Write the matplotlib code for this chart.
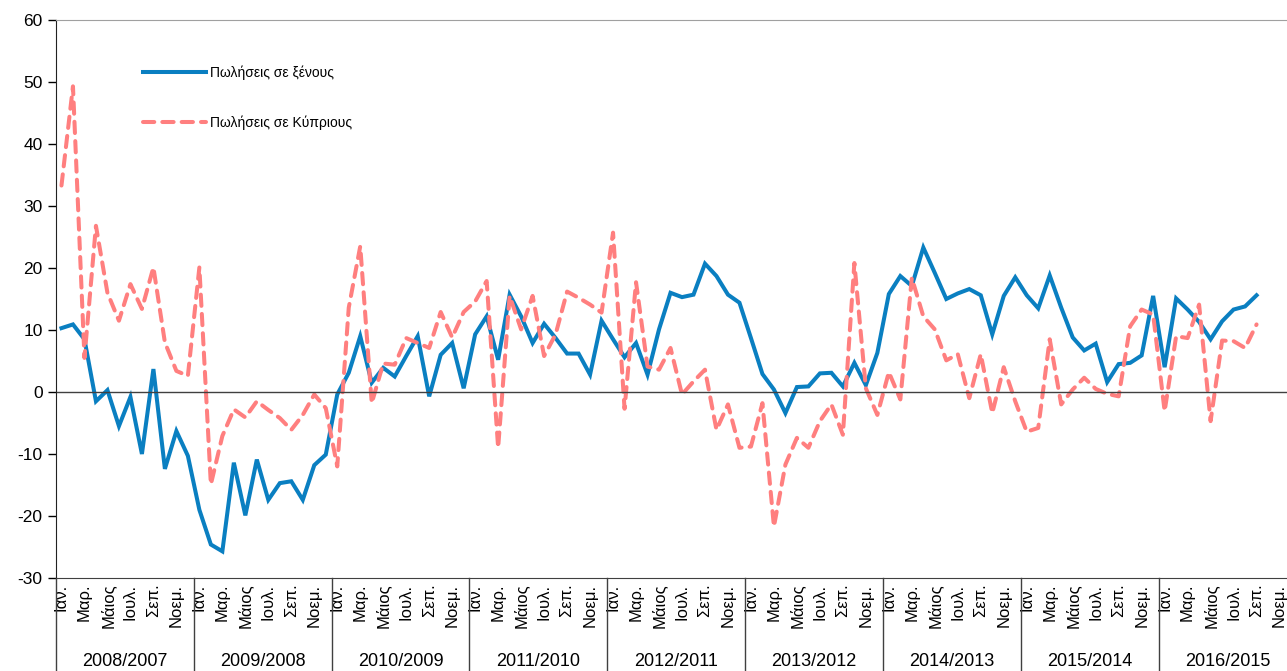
import matplotlib
matplotlib.use("Agg")
import matplotlib.pyplot as plt
import matplotlib.transforms as mtransforms
import numpy as np

plt.rcParams['font.family'] = ['Liberation Sans', 'DejaVu Sans']
plt.rcParams['axes.unicode_minus'] = False

# monthly % change, Jan 2008 .. Sep 2016
foreign = [10.3, 10.9, 8.5, -1.5, 0.3, -5.5, -0.8, -10.0, 3.7, -12.4, -6.3, -10.3,
           -19.0, -24.6, -25.7, -11.4, -19.9, -10.9, -17.4, -14.7, -14.4, -17.4, -11.8, -10.1,
           -0.4, 3.1, 9.0, 1.5, 3.9, 2.5, 5.8, 9.0, -0.7, 6.0, 7.9, 0.6,
           9.3, 12.2, 5.2, 15.7, 12.2, 7.9, 11.0, 8.7, 6.2, 6.2, 2.8, 11.5,
           8.5, 5.6, 7.9, 2.8, 10.1, 16.0, 15.3, 15.7, 20.7, 18.7, 15.7, 14.4,
           8.7, 2.9, 0.4, -3.4, 0.8, 0.9, 3.0, 3.1, 0.9, 4.7, 1.1, 6.3,
           15.8, 18.7, 17.1, 23.3, 19.2, 15.0, 15.9, 16.6, 15.6, 9.3, 15.5, 18.5,
           15.6, 13.5, 18.8, 13.6, 8.8, 6.7, 7.8, 1.6, 4.5, 4.7, 5.9, 15.5,
           4.0, 15.1, 13.3, 11.3, 8.5, 11.4, 13.3, 13.8, 15.6]

cypriots = [33.3, 49.3, 5.5, 26.8, 16.0, 11.5, 17.4, 13.4, 20.1, 8.0, 3.4, 2.6,
            20.1, -14.9, -7.1, -2.8, -4.1, -1.5, -2.9, -4.2, -6.1, -3.7, -0.4, -2.6,
            -12.0, 13.6, 23.5, -1.8, 4.6, 4.4, 8.7, 7.9, 7.1, 12.9, 8.8, 12.9,
            14.6, 17.9, -9.0, 15.5, 10.1, 15.5, 5.8, 9.3, 16.2, 15.2, 14.1, 12.8,
            25.7, -2.7, 17.7, 4.1, 3.6, 7.1, -0.4, 1.7, 3.6, -6.1, -2.0, -9.0,
            -8.8, -1.8, -21.7, -11.7, -7.4, -9.0, -4.7, -2.0, -6.9, 20.8, 0.6, -3.7,
            3.2, -1.2, 18.4, 12.2, 10.1, 5.1, 6.1, -1.0, 6.1, -3.4, 4.0, -1.5,
            -6.4, -5.8, 8.5, -2.0, 0.4, 2.3, 0.5, -0.3, -0.7, 10.6, 13.3, 12.5,
            -3.1, 9.0, 8.7, 14.1, -4.7, 8.3, 8.2, 7.1, 10.9]

months = ['Ιαν.', 'Μαρ.', 'Μάιος', 'Ιουλ.', 'Σεπ.', 'Νοεμ.']
years = ['2008/2007', '2009/2008', '2010/2009', '2011/2010', '2012/2011',
         '2013/2012', '2014/2013', '2015/2014', '2016/2015']

fig = plt.figure(figsize=(12.87, 6.71), dpi=100)
# axis runs a little past the right edge of the figure
ax = fig.add_axes([0.0433, 0.1386, 0.9643, 0.8316])

x = np.arange(len(foreign))
ax.plot(x, foreign, color='#0A7FC1', lw=2.9, label='Πωλήσεις σε ξένους',
        solid_joinstyle='miter')
ax.plot(x, cypriots, color='#FF7F7F', lw=2.9, label='Πωλήσεις σε Κύπριους',
        linestyle=(0, (2.8, 2.0)), dash_capstyle='round')
ax.axhline(0, color='#404040', lw=1)

nmonths = 12 * len(years)
ax.set_xlim(-0.5, nmonths - 0.5)
ax.set_ylim(-30, 60)
ax.set_yticks(range(-30, 61, 10))
ax.tick_params(axis='y', labelsize=12.5, length=6, width=1, direction='out')

ticks = np.arange(0, nmonths, 2)
ax.set_xticks(ticks)
ax.set_xticklabels([months[(t % 12) // 2] for t in ticks], rotation=90, fontsize=12)
ax.tick_params(axis='x', length=0, pad=4)

ax.spines['right'].set_visible(False)
ax.spines['top'].set_color('#A0A0A0')
ax.spines['left'].set_color('#222222')
ax.spines['bottom'].set_color('#404040')

# year groups under the month labels
trans = mtransforms.blended_transform_factory(ax.transData, ax.transAxes)
for k in range(len(years) + 1):
    ax.plot([12 * k - 0.5] * 2, [0, -0.17], transform=trans, color='#404040',
            lw=1, clip_on=False)
for k, yr in enumerate(years):
    ax.text(12 * k + 5.5, -0.15, yr, transform=trans, ha='center', va='center',
            fontsize=13)

ax.legend(loc='upper left', bbox_to_anchor=(143 / 1287, 1 - 65 / 671),
          bbox_transform=fig.transFigure, frameon=False, fontsize=10,
          handlelength=4.5, handletextpad=0.3, labelspacing=2.6,
          borderpad=0, borderaxespad=0)

fig.savefig('out.png', dpi=100)
